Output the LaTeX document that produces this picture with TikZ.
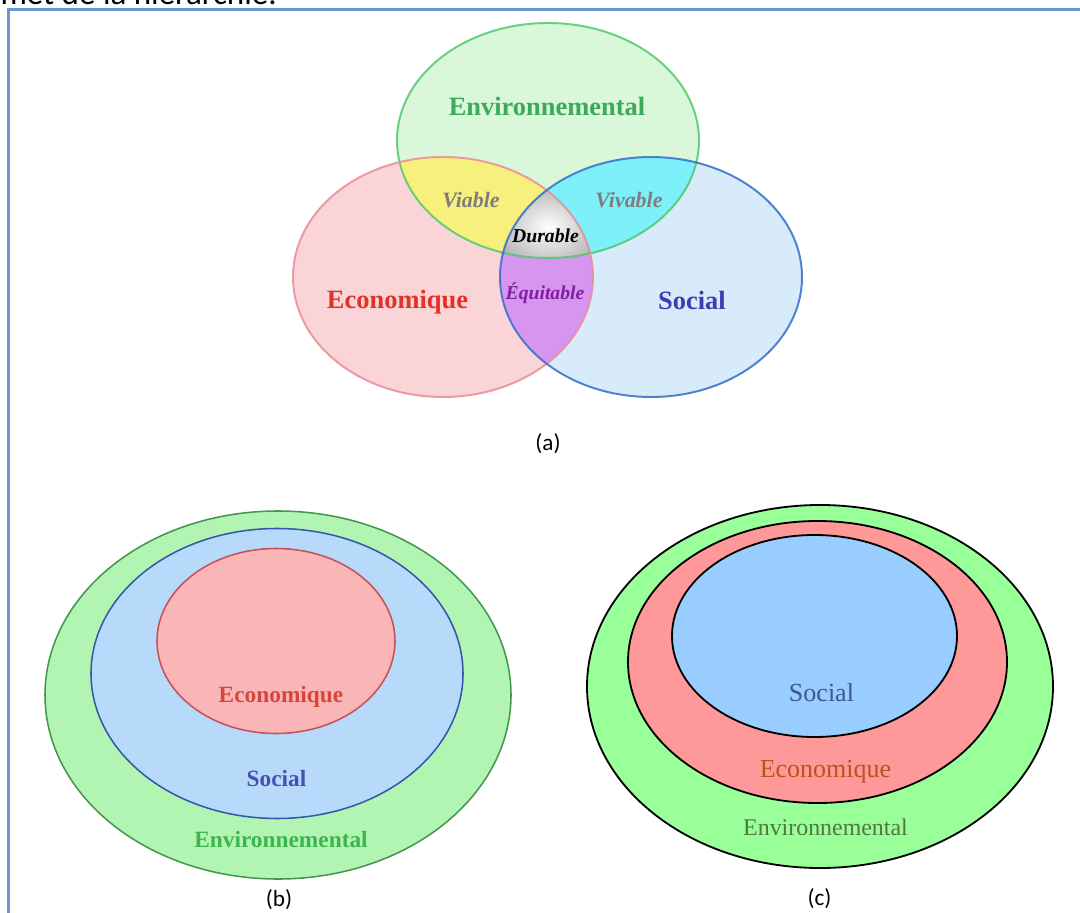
\documentclass[tikz,border=0pt]{standalone}
\usepackage{fontspec}
\setmainfont{Liberation Serif}
\newfontfamily\capfont{Carlito}
\usetikzlibrary{positioning}

\definecolor{framecol}{RGB}{106,150,210}
% (a)
\definecolor{envfill}{RGB}{218,247,218}
\definecolor{ecofill}{RGB}{250,212,214}
\definecolor{socfill}{RGB}{216,235,250}
\definecolor{envline}{RGB}{80,200,110}
\definecolor{ecoline}{RGB}{235,140,150}
\definecolor{socline}{RGB}{50,110,200}
\definecolor{viafill}{RGB}{248,240,125}
\definecolor{vivfill}{RGB}{125,240,250}
\definecolor{equfill}{RGB}{214,150,240}
\definecolor{durgray}{RGB}{175,175,175}
\definecolor{envtxt}{RGB}{60,170,90}
\definecolor{ecotxt}{RGB}{225,50,40}
\definecolor{soctxt}{RGB}{60,60,180}
\definecolor{vivtxt}{RGB}{125,125,125}
\definecolor{equtxt}{RGB}{130,30,160}
% (b)
\definecolor{bgreen}{RGB}{178,245,178}
\definecolor{bgreenl}{RGB}{70,150,80}
\definecolor{bblue}{RGB}{184,218,250}
\definecolor{bbluel}{RGB}{50,90,170}
\definecolor{bred}{RGB}{250,182,182}
\definecolor{bredl}{RGB}{200,80,90}
\definecolor{becotxt}{RGB}{215,70,60}
\definecolor{bsoctxt}{RGB}{70,80,180}
\definecolor{benvtxt}{RGB}{60,180,80}
% (c)
\definecolor{cgreen}{RGB}{153,255,153}
\definecolor{cred}{RGB}{255,153,153}
\definecolor{cblue}{RGB}{153,204,255}
\definecolor{csoctxt}{RGB}{62,88,140}
\definecolor{cecotxt}{RGB}{180,85,30}
\definecolor{cenvtxt}{RGB}{80,120,60}

\tikzset{
  biglbl/.style={font=\fontsize{18.8}{21}\selectfont\bfseries},
  smalllbl/.style={font=\fontsize{#1}{#1}\selectfont\bfseries\itshape},
  blbl/.style={font=\fontsize{16.6}{19}\selectfont\bfseries},
  clbl/.style={font=\fontsize{#1}{#1}\selectfont},
  caption/.style={font=\capfont\fontsize{16.5}{18}\selectfont},
  vennline/.style={line width=1.4pt, draw opacity=0.85},
}

\begin{document}
\begin{tikzpicture}[x=0.025cm,y=-0.025cm]
	\useasboundingbox (0,0) rectangle (1080,913);
	\node[anchor=base east, inner sep=0, font=\capfont\fontsize{23.5}{26}\selectfont] (hier) at (277,4.5) {au sommet de la hiérarchie.};
	\draw[framecol, line width=2pt] (1095,9.3) -- (8.3,9.3) -- (8.3,925);

	% (a)
	\coordinate (env) at (548,140.5);
	\coordinate (eco) at (443,277);
	\coordinate (soc) at (651,277);
	\fill[envfill] (env) ellipse [x radius=151, y radius=117.5];
	\fill[ecofill] (eco) ellipse [x radius=150, y radius=120];
	\fill[socfill] (soc) ellipse [x radius=151, y radius=120];
	\begin{scope}
		\clip (env) ellipse [x radius=151, y radius=117.5];
		\fill[viafill] (eco) ellipse [x radius=150, y radius=120];
		\fill[vivfill] (soc) ellipse [x radius=151, y radius=120];
	\end{scope}
	\begin{scope}
		\clip (eco) ellipse [x radius=150, y radius=120];
		\fill[equfill] (soc) ellipse [x radius=151, y radius=120];
		\clip (soc) ellipse [x radius=151, y radius=120];
		\clip (env) ellipse [x radius=151, y radius=117.5];
		\shade[inner color=white, outer color=durgray] (490,182) rectangle (606,272);
	\end{scope}
	\draw[vennline, envline] (env) ellipse [x radius=151, y radius=117.5];
	\draw[vennline, ecoline] (eco) ellipse [x radius=150, y radius=120];
	\draw[vennline, socline] (soc) ellipse [x radius=151, y radius=120];
	\node[biglbl, text=envtxt] (envname) at (547,106) {Environnemental};
	\node[biglbl, text=ecotxt] (econame) at (397.5,302) {Economique};
	\node[biglbl, text=soctxt] (socname) at (692,300) {Social};
	\node[smalllbl=15.6, text=vivtxt] (viable) at (471,200) {Viable};
	\node[smalllbl=15.6, text=vivtxt] (vivable) at (629,200) {Vivable};
	\node[smalllbl=14] (durable) at (545.5,236) {Durable};
	\node[smalllbl=14, text=equtxt] (equit) at (545,293) {Équitable};
	\node[caption] (capa) at (548,443.5) {(a)};

	% (b)
	\draw[bgreenl, fill=bgreen, line width=1.1pt] (278,695) ellipse [x radius=233, y radius=184];
	\draw[bbluel, fill=bblue, line width=1.1pt] (277,673.5) ellipse [x radius=186, y radius=145];
	\draw[bredl, fill=bred, line width=1.1pt] (276,641) ellipse [x radius=119, y radius=92.5];
	\node[blbl, text=becotxt] (becon) at (281,697) {Economique};
	\node[blbl, text=bsoctxt] (bsoc) at (276.5,779) {Social};
	\node[blbl, text=benvtxt] (benv) at (281,840) {Environnemental};
	\node[caption] (capb) at (279,900) {(b)};

	% (c)
	\draw[black, fill=cgreen, line width=1.3pt] (820,686.5) ellipse [x radius=233, y radius=181.5];
	\draw[black, fill=cred, line width=1.3pt] (817.5,662) ellipse [x radius=189.5, y radius=141];
	\draw[black, fill=cblue, line width=1.3pt] (814.5,636) ellipse [x radius=142.5, y radius=101];
	\node[clbl=18.5, text=csoctxt] (csoc) at (821.5,693) {Social};
	\node[clbl=18.5, text=cecotxt] (cecon) at (825.5,772) {Economique};
	\node[clbl=17, text=cenvtxt] (cenv) at (825.5,827) {Environnemental};
	\node[caption] (capc) at (819.5,899) {(c)};
\end{tikzpicture}
\end{document}
